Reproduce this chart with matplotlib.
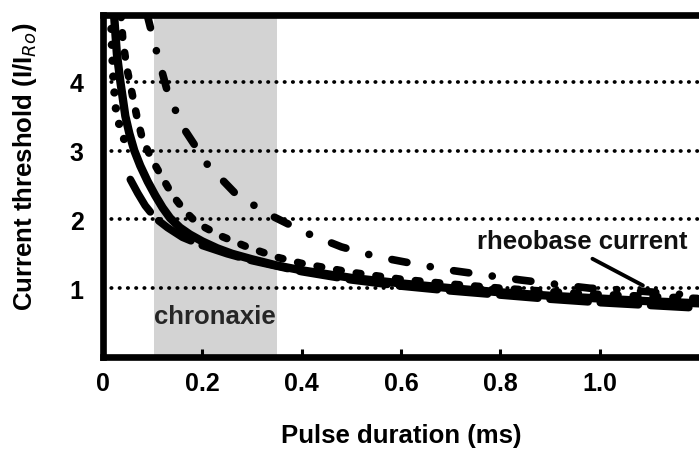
import matplotlib
matplotlib.use("Agg")
import matplotlib.pyplot as plt

plt.rcParams['font.family'] = ['Liberation Sans', 'DejaVu Sans']

# Curvas intensidad-duracion
t_solida = [0.022, 0.028, 0.035, 0.045, 0.053, 0.063, 0.075, 0.090, 0.105, 0.120,
            0.135, 0.155, 0.175, 0.20, 0.23, 0.26, 0.30, 0.35, 0.40, 0.50,
            0.60, 0.70, 0.80, 0.90, 1.00, 1.10, 1.20]
y_solida = [5.0, 4.4, 4.0, 3.5, 3.25, 3.0, 2.78, 2.55, 2.35, 2.17,
            2.02, 1.88, 1.78, 1.68, 1.58, 1.50, 1.42, 1.33, 1.26, 1.15,
            1.07, 1.0, 0.94, 0.89, 0.85, 0.81, 0.78]

t_puntos = [0.016, 0.018, 0.021, 0.026, 0.035, 0.045, 0.060]
y_puntos = [5.0, 4.5, 4.0, 3.6, 3.3, 3.12, 2.98]

t_guiones = [0.036, 0.040, 0.048, 0.058, 0.068, 0.080, 0.100, 0.120, 0.140, 0.165,
             0.190, 0.24, 0.29, 0.35, 0.40, 0.50, 0.60, 0.70, 0.80, 0.90,
             1.00, 1.10, 1.20]
y_guiones = [5.0, 4.6, 4.2, 3.85, 3.5, 3.15, 2.85, 2.6, 2.35, 2.12,
             1.94, 1.75, 1.6, 1.45, 1.36, 1.23, 1.13, 1.06, 1.0, 0.95,
             0.91, 0.88, 0.85]

t_largo = [0.055, 0.07, 0.085, 0.105, 0.13, 0.16, 0.2, 0.25, 0.3, 0.4,
           0.5, 0.6, 0.7, 0.8, 0.9, 1.0, 1.1, 1.2]
y_largo = [2.58, 2.38, 2.2, 2.02, 1.88, 1.74, 1.62, 1.5, 1.4, 1.24,
           1.12, 1.03, 0.96, 0.9, 0.84, 0.79, 0.75, 0.71]

t_rayapunto = [0.088, 0.095, 0.11, 0.13, 0.16, 0.21, 0.27, 0.34, 0.41, 0.48,
               0.55, 0.63, 0.70, 0.77, 0.84, 0.92, 0.98, 1.06, 1.13, 1.2]
y_rayapunto = [5.0, 4.8, 4.38, 3.85, 3.35, 2.8, 2.35, 2.05, 1.8, 1.6,
               1.46, 1.35, 1.26, 1.19, 1.12, 1.05, 1.0, 0.97, 0.93, 0.89]

cronaxia = (0.103, 0.35)
grilla_y = [1, 2, 3, 4]
ticks_x = [0, 0.2, 0.4, 0.6, 0.8, 1.0]
etiquetas_x = ["0", "0.2", "0.4", "0.6", "0.8", "1.0"]

fig = plt.figure(figsize=(6.99, 4.52), dpi=100)
ax = fig.add_axes([103 / 699, 94 / 452, 596 / 699, 342 / 452])

ax.axvspan(cronaxia[0], cronaxia[1], color="#d3d3d3", zorder=0, lw=0)
for g in grilla_y:
    ax.axhline(g, color="black", lw=2.7, linestyle=(0, (0.1, 2.1)),
               dash_capstyle="round", zorder=1)

ax.plot(t_largo, y_largo, color="black", lw=5.5, linestyle=(0, (5, 1.6)),
        dash_capstyle="round", solid_joinstyle="round", zorder=3)
ax.plot(t_puntos, y_puntos, color="black", lw=6, linestyle=(0, (0.01, 1.9)),
        dash_capstyle="round", zorder=3)
ax.plot(t_guiones, y_guiones, color="black", lw=5.5, linestyle=(0, (0.6, 2.0)),
        dash_capstyle="round", zorder=3)
ax.plot(t_solida, y_solida, color="black", lw=6, solid_capstyle="round",
        solid_joinstyle="round", zorder=4)
ax.plot(t_rayapunto, y_rayapunto, color="black", lw=5.5, linestyle=(0, (2, 3.1, 0.01, 3.1)),
        dash_capstyle="round", zorder=3)

ax.text(0.225, 0.6, "chronaxie", fontsize=18.5, fontweight="bold", ha="center",
        va="center", color="#262626")
ax.annotate("rheobase current", xy=(1.087, 1.04), xytext=(0.965, 1.68),
            fontsize=18.5, fontweight="bold", ha="center", va="center", color="#111111",
            arrowprops=dict(arrowstyle="-", lw=2.8, color="black",
                            relpos=(0.5, 0), shrinkA=4, shrinkB=0))

ax.set_xlim(0, 1.2)
ax.set_ylim(0, 4.97)
ax.set_xticks(ticks_x)
ax.set_xticklabels(etiquetas_x)
ax.set_yticks(grilla_y)

for lado in ["left", "bottom", "top"]:
    ax.spines[lado].set_linewidth(4.8)
    ax.spines[lado].set_color("black")
ax.spines["right"].set_visible(False)

ax.tick_params(axis="x", direction="in", length=6, width=2.2, pad=10, labelsize=18)
ax.tick_params(axis="y", direction="in", length=0, width=2, pad=14, labelsize=18)
for lbl in ax.get_xticklabels() + ax.get_yticklabels():
    lbl.set_fontweight("bold")

ax.set_xlabel("Pulse duration (ms)", fontsize=18.5, fontweight="bold", labelpad=20)
ax.set_ylabel("Current threshold (I/I$_{Ro}$)", fontsize=18.5, fontweight="bold")
ax.yaxis.set_label_coords(-0.108, 0.56)

fig.savefig("out.png", dpi=100)
